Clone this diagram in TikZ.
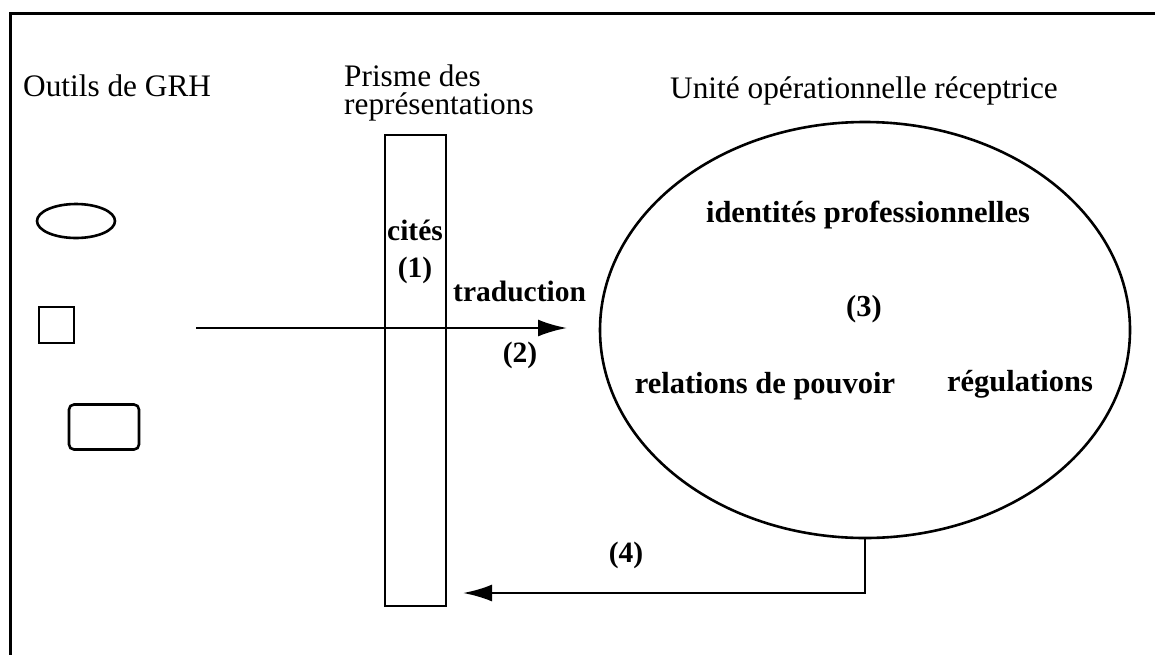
\documentclass[tikz,border=0pt]{standalone}
\usepackage{fontspec}
\setmainfont{Liberation Serif}
\usetikzlibrary{shapes.geometric,arrows.meta}
\begin{document}
\begin{tikzpicture}[x=1pt,y=-1pt,
  lbl/.style={inner sep=0pt,font=\fontsize{31.3}{27.5}\selectfont},
  blbl/.style={inner sep=0pt,font=\fontsize{30.5}{32}\selectfont\bfseries},
  sblbl/.style={inner sep=0pt,font=\fontsize{29.5}{31}\selectfont\bfseries},
  shp/.style={draw,line width=2.6pt,inner sep=0pt},
  conn/.style={line width=2.6pt,-{Latex[length=29pt,width=17pt]}}]
\useasboundingbox (0,0) rectangle (1155,654);
% frame
\draw[line width=3pt] (10,670) -- (10,13) -- (1170,13);
% labels
\node[lbl,anchor=base west] (outils) at (23,96) {Outils de GRH};
\node[lbl,anchor=north west,align=left] (prisme) at (344,65) {Prisme des\\représentations};
\node[lbl,anchor=base] (unite) at (864,98) {Unité opérationnelle réceptrice};
% tools
\node[shp,ellipse,minimum width=78pt,minimum height=34pt] (t1) at (76,221) {};
\node[shp,rectangle,minimum width=35pt,minimum height=36pt] (t2) at (56.5,325) {};
\node[shp,rectangle,rounded corners=5pt,minimum width=70pt,minimum height=45pt] (t3) at (104,427) {};
% prism
\node[shp,rectangle,minimum width=61pt,minimum height=471pt] (prism) at (415.5,370.5) {};
\node[sblbl] (cites) at (415,230) {cités};
\node[sblbl] (n1) at (415,270) {(1)};
% unit ellipse
\node[shp,ellipse,minimum width=530pt,minimum height=416pt] (unit) at (865,330) {};
\node[blbl] (ident) at (868,215) {identités professionnelles};
\node[blbl] (n3) at (864,309) {(3)};
\node[blbl] (rel) at (765,386) {relations de pouvoir};
\node[blbl] (reg) at (1020,384) {régulations};
% arrows
\coordinate (a1) at (196,328);
\coordinate (a2) at (567,328);
\draw[conn] (a1) -- (a2);
\node[sblbl,anchor=west] (trad) at (453,291) {traduction};
\node[sblbl] (n2) at (520,355) {(2)};
\coordinate (b2) at (463,593);
\draw[conn] (unit.south) |- (b2);
\node[sblbl] (n4) at (626,555) {(4)};
\end{tikzpicture}
\end{document}
